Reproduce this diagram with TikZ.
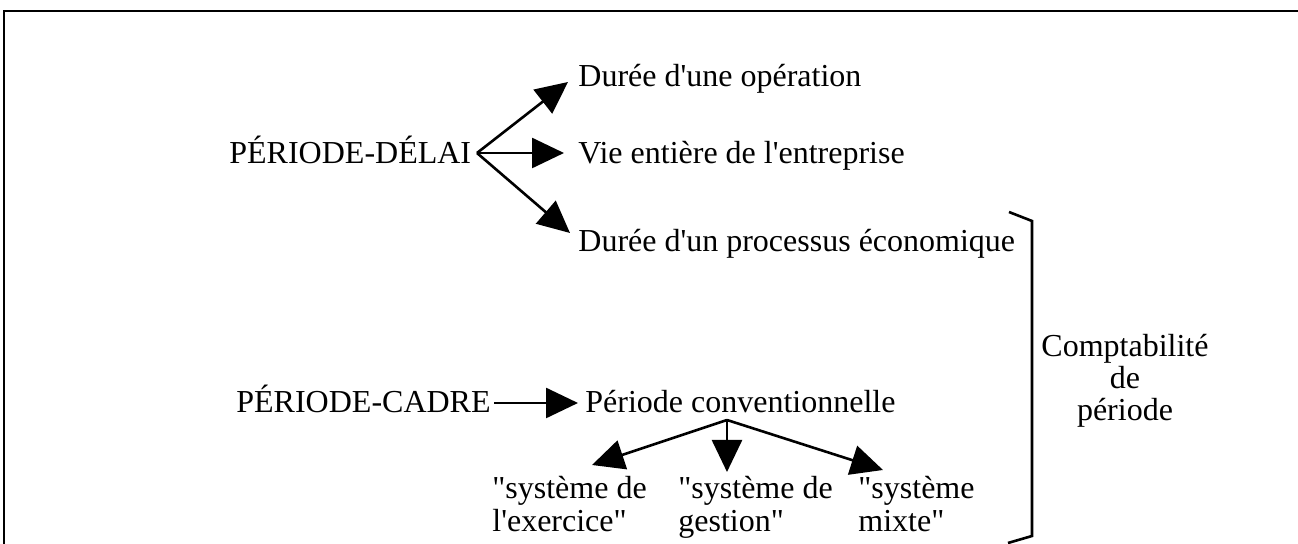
\documentclass[tikz,border=0pt]{standalone}
\usepackage{fontspec}
\setmainfont{Liberation Serif}[Ligatures=TeXOff]
\usetikzlibrary{arrows.meta}
\begin{document}
\begin{tikzpicture}[x=0.5pt,y=-0.5pt,
  txt/.style={inner sep=0pt,anchor=base west,font=\fontsize{16}{16}\selectfont},
  arr/.style={line width=1.3pt,-{Triangle[length=16pt,width=15pt]}},
  ln/.style={line width=1.3pt}]
\useasboundingbox (0,0) rectangle (1298,544);
\draw[ln] (4,560) -- (4,11) -- (1310,11);
% top group
\node[txt] (pd) at (229,164) {PÉRIODE-DÉLAI};
\node[txt] (d1) at (578,87) {Durée d'une opération};
\node[txt] (d2) at (578,164) {Vie entière de l'entreprise};
\node[txt] (d3) at (578,252) {Durée d'un processus économique};
\coordinate (o1) at (477,153);
\coordinate (t1) at (568,82);
\coordinate (t2) at (564,153);
\coordinate (t3) at (570,233);
\draw[arr] (o1) -- (t1);
\draw[arr] (o1) -- (t2);
\draw[arr] (o1) -- (t3);
% bottom group
\node[txt] (pc) at (236,413) {PÉRIODE-CADRE};
\node[txt] (conv) at (585,413) {Période conventionnelle};
\coordinate (o2) at (494,403);
\coordinate (t4) at (578,403);
\draw[arr] (o2) -- (t4);
\coordinate (br) at (727,420);
\node[txt,align=left,font=\fontsize{16}{16.5}\selectfont] (s1) at (492,532) {"système de\\l'exercice"};
\node[txt,align=left,font=\fontsize{16}{16.5}\selectfont] (s2) at (678,532) {"système de\\gestion"};
\node[txt,align=left,font=\fontsize{16}{16.5}\selectfont] (s3) at (858,532) {"système\\mixte"};
\coordinate (t5) at (592,465);
\coordinate (t6) at (727,472);
\coordinate (t7) at (883,470);
\draw[arr] (br) -- (t5);
\draw[arr] (br) -- (t6);
\draw[arr] (br) -- (t7);
% bracket
\coordinate (b1) at (1009,212);
\coordinate (b2) at (1032,221);
\coordinate (b3) at (1032,536);
\coordinate (b4) at (1008,543);
\draw[ln,line join=miter] (b1) -- (b2) -- (b3) -- (b4);
\node[inner sep=0pt,anchor=base,align=center,font=\fontsize{16}{16.2}\selectfont] (cp) at (1125,421) {Comptabilité\\de\\période};
\end{tikzpicture}
\end{document}
